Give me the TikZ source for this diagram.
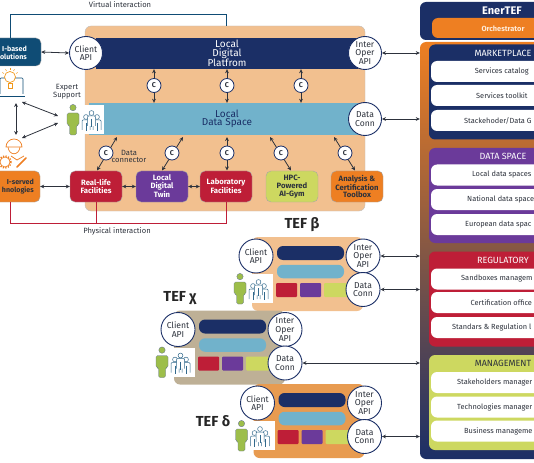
\documentclass[tikz,border=0pt]{standalone}
\usepackage{fontspec}
\setmainfont{Fira Sans}
\usepackage{tikz}
\usetikzlibrary{arrows.meta,calc}
\usepackage{xcolor}
\definecolor{navyband}{RGB}{27,47,102}
\definecolor{skyband}{RGB}{113,178,203}
\definecolor{sandpanel}{RGB}{242,192,143}
\definecolor{taupepanel}{RGB}{190,176,150}
\definecolor{amberpanel}{RGB}{232,155,80}
\definecolor{firebox}{RGB}{190,30,55}
\definecolor{plumbox}{RGB}{107,58,154}
\definecolor{limebox}{RGB}{205,216,96}
\definecolor{orangebox}{RGB}{238,127,34}
\definecolor{tealbox}{RGB}{15,76,117}
\definecolor{inkgrey}{RGB}{45,50,60}
\definecolor{figgreen}{RGB}{157,190,74}
\definecolor{crewblue}{RGB}{50,105,140}
\tikzset{
  panelbox/.style={rounded corners=6, inner sep=0},
  bandbox/.style={inner sep=0, align=center, font=\fontsize{10}{8.6}\selectfont},
  unitbox/.style={rounded corners=5, draw=black!35, inner sep=0, align=center,
    minimum width=52, minimum height=31, text=white,
    font=\fontsize{7.7}{7.9}\selectfont\bfseries},
  cuttext/.style={inner sep=0, align=right, anchor=east, font=\fontsize{7.1}{7.9}\selectfont\bfseries},
  apicircle/.style={circle, draw=navyband, line width=0.9pt, fill=white, inner sep=0,
    minimum size=33, align=center, text=inkgrey, font=\fontsize{8.6}{8.6}\selectfont},
  ccircle/.style={circle, draw=navyband, line width=0.8pt, fill=white, inner sep=0,
    minimum size=14, text=inkgrey, font=\fontsize{7}{7}\selectfont\bfseries},
  rowbox/.style={rounded corners=6, fill=white, inner sep=0, minimum width=140, minimum height=21},
  rowtext/.style={anchor=west, inner sep=0, text=inkgrey, font=\fontsize{7.4}{8}\selectfont},
  headtext/.style={inner sep=0, font=\fontsize{9}{9}\selectfont},
  notetext/.style={inner sep=0, align=center, text=inkgrey, font=\fontsize{7.6}{7.8}\selectfont},
  teftext/.style={inner sep=0, text=black!85, font=\fontsize{14.5}{15}\selectfont\bfseries},
  link/.style={<->, inkgrey, line width=0.8pt},
}
% person with the crew beside it, origin at the top of the head
\newcommand{\crewicon}[1]{
  \fill[white] (3.5,1) rectangle (#1,30);
  \fill[figgreen, draw=navyband!70, line width=0.3pt, rounded corners=1.5]
    (-6,21) -- (-6,9) -- (6,9) -- (6,21) -- (3.5,21) -- (3.5,31) -- (-3.5,31) -- (-3.5,21) -- cycle;
  \fill[figgreen, draw=navyband!70, line width=0.3pt] (0,3.6) circle (3.2);
  \foreach \cx/\cy in {13/11,24/11,18.5/7}{
    \draw[crewblue, line width=0.5pt, fill=white, rounded corners=1]
      (\cx-4,\cy+15) -- (\cx-4,\cy+5) -- (\cx+4,\cy+5) -- (\cx+4,\cy+15);
    \draw[crewblue, line width=0.5pt, fill=white] (\cx,\cy+2) circle (2.4);
    \draw[crewblue, line width=0.3pt] (\cx,\cy+8) -- (\cx,\cy+16);
  }
}
\begin{document}
\begin{tikzpicture}[x=1pt, y=-1pt, >={Stealth[length=4pt,width=3.8pt]}]
  \useasboundingbox (0,0) rectangle (534,462);
  \clip (0,0) rectangle (534,462);

  % Right column
  \node[panelbox, fill=navyband, minimum width=180, minimum height=38] (enerhead) at (510,21) {};
  \node[panelbox, fill=orangebox, minimum width=150, minimum height=20] (orchestrator) at (507,28) {};
  \node[headtext, white, font=\fontsize{11}{11}\selectfont\bfseries] (enertitle) at (502,11) {EnerTEF};
  \node[headtext, white!85!orange, font=\fontsize{7.4}{8}\selectfont\bfseries] (orchtitle) at (503,28.5) {Orchestrator};
  \node[panelbox, top color=orangebox, bottom color=navyband, minimum width=180, minimum height=417] (enerpanel) at (510,250.5) {};

  % Market place, data space, regulatory, management
  \foreach \gname/\gy/\gcol/\gtxt/\gtitle in {
    market/92/navyband/white/MARKETPLACE, space/195.5/plumbox/white/DATA SPACE,
    regul/299/firebox/white/REGULATORY, manage/402.5/limebox/inkgrey/MANAGEMENT}{
    \node[panelbox, fill=\gcol, minimum width=140, minimum height=95] (\gname) at (499,\gy) {};
    \node[headtext, \gtxt] (\gname-title) at (503,\gy-39) {\gtitle};
  }
  \foreach \rname/\ry/\rx/\rtext in {
    cat/71.5/474.7/Services catalog, kit/95.5/476/Services toolkit, stake/120.5/464/{Stackehoder/Data G},
    local/175/472/Local data spaces, nation/199.5/467/National data space, euro/224.5/465/European data spac,
    sand/279/461/Sandboxes managem, cert/302.5/470.5/Certification office, stan/327.5/452/Standars \& Regulation l,
    holder/382.5/457/Stakeholders manager, tech/407/457/Technologies manager, busi/431/464/Business manageme}{
    \node[rowbox] (\rname) at (501,\ry) {};
    \node[rowtext] (\rname-text) at (\rx,\ry) {\rtext};
  }

  % Main TEF
  \node[panelbox, fill=sandpanel, draw=black!25, line width=0.4pt, minimum width=280, minimum height=185] (mainpanel) at (225,118.5) {};
  \node[bandbox, fill=navyband, text=white, minimum width=262, minimum height=31] (platform) at (227,53.5) {Local\\Digital\\Platfrom};
  \node[bandbox, fill=skyband, text=navyband, minimum width=276, minimum height=32] (dataspace) at (227,119) {Local\\Data Space};
  \begin{scope}[shift={(73,104)}]
    \crewicon{31}
  \end{scope}

  % Units along the bottom
  \node[unitbox, fill=firebox] (realfac) at (96,186.5) {Real-life\\Facilities};
  \node[unitbox, fill=plumbox] (twin) at (162,186.5) {Local\\Digital\\Twin};
  \node[unitbox, fill=firebox] (labfac) at (226,186.5) {Laboratory\\Facilities};
  \node[unitbox, fill=limebox, text=inkgrey] (gym) at (292,186.5) {HPC-\\Powered\\AI-Gym};
  \node[unitbox, fill=orangebox, text=inkgrey] (toolbox) at (357,186.5) {Analysis \&\\Certification\\Toolbox};
  \node[unitbox, fill=orangebox, minimum width=60] (served) at (10,186.5) {};
  \node[cuttext, text=inkgrey] (servedtext) at (34,186.5) {I-served\hspace{6pt}\\hnologies};
  \node[unitbox, fill=tealbox, minimum width=62, minimum height=28] (aibased) at (10,52) {};
  \node[cuttext, text=white] (aitext) at (27,52.5) {I-based\\olutions};

  % Vertical connectors between the bands
  \foreach \cname/\cx in {ca/154,cb/227,cc/301}{
    \coordinate (\cname-pos) at (\cx,85.5);
    \draw[link] (\cname-pos |- platform.south) -- (\cname-pos |- dataspace.north);
    \node[ccircle] (\cname) at (\cname-pos) {C};
  }

  % Connectors down to the units
  \foreach \cname/\cx/\ax/\bx in {cd/106/117/97, ce/172/183/162, cf/227/227/227, cg/281/270/291, ch/345/334/355}{
    \coordinate (\cname-top) at (\ax,137);
    \coordinate (\cname-low) at (\bx,170.5);
    \draw[link] (\cname-top) -- (\cname-low);
    \node[ccircle] (\cname) at (\cx,153) {C};
  }

  % Arrows between the units
  \draw[link] (served) -- (realfac);
  \draw[link] (realfac) -- (twin);
  \draw[link] (twin) -- (labfac);

  % Circles of the main TEF
  \node[apicircle] (client) at (86,53) {Client\\API};
  \node[apicircle] (inter) at (365,53) {Inter\\Oper\\API};
  \node[apicircle] (dataconn) at (365,119) {Data\\Conn};
  \draw[link] (aibased.east) -- (client.west);
  \draw[link] (inter.east) -- (enerpanel.west |- inter.east);
  \draw[link] (dataconn.east) -- (enerpanel.west |- dataconn.east);

  % Smaller TEFs
  \foreach \tefname/\dx/\dy/\tefcol in {beta/0/0/sandpanel, chi/-78/73.5/taupepanel, delta/1.5/147/amberpanel}{
    \begin{scope}[shift={(\dx,\dy)}]
      \node[panelbox, fill=\tefcol, minimum width=111, minimum height=74] (\tefname-panel) at (307.5,274) {};
      \node[rounded corners=6, fill=navyband, minimum width=67, minimum height=14, inner sep=0] (\tefname-plat) at (310.5,253) {};
      \node[rounded corners=6, fill=skyband, minimum width=67, minimum height=13.5, inner sep=0] (\tefname-space) at (310.5,271.5) {};
      \node[fill=firebox, rounded corners=1, minimum width=21, minimum height=14, inner sep=0] (\tefname-red) at (286.5,290) {};
      \node[fill=plumbox, rounded corners=1, minimum width=21, minimum height=14, inner sep=0] (\tefname-plum) at (310.5,290) {};
      \node[fill=limebox, rounded corners=1, minimum width=23, minimum height=14, inner sep=0] (\tefname-lime) at (335.5,290) {};
      \begin{scope}[shift={(240,273)}]
        \crewicon{33}
      \end{scope}
      \node[apicircle, minimum size=34] (\tefname-client) at (256,256) {Client\\API};
      \node[apicircle, minimum size=34] (\tefname-inter) at (363,256) {Inter\\Oper\\API};
      \node[apicircle, minimum size=34] (\tefname-conn) at (363,289.5) {Data\\Conn};
    \end{scope}
  }
  \draw[link] (beta-inter.east) -- (enerpanel.west |- beta-inter.east);
  \draw[link] (beta-conn.east) -- (enerpanel.west |- beta-conn.east);
  \draw[link] (chi-conn.east) -- (enerpanel.west |- chi-conn.east);
  \draw[link] (delta-conn.east) -- (enerpanel.west |- delta-conn.east);

  % Virtual and physical lines
  \coordinate (virtualtop) at (226.5,14.5);
  \coordinate (physbase) at (226,223);
  \draw[tealbox, line width=0.8pt] (aibased.north) |- (virtualtop) -- (virtualtop |- mainpanel.north);
  \draw[firebox, line width=0.8pt] (served.south) |- (physbase) -- (physbase |- labfac.south);
  \draw[firebox, line width=0.8pt] (realfac.south) -- (realfac.south |- physbase);

  % Icons on the left
  \draw[tealbox, line width=0.6pt, rounded corners=1] (0,94) -- (0,78) -- (23,78) -- (23,94);
  \draw[tealbox, line width=0.9pt] (-2,96) -- (25,96);
  \draw[orangebox!80!yellow, line width=0.7pt, fill=white] (10,77) circle (5.5);
  \draw[orangebox!80!yellow, line width=0.7pt] (8,83) rectangle (12,88);
  \foreach \a in {-150,-120,-90,-60,-30}{
    \draw[orangebox!80!yellow, line width=0.5pt] ($(10,77)+(\a:7)$) -- ($(10,77)+(\a:9)$);
  }
  \coordinate (bulbcorner) at (16,103);
  \coordinate (gearcorner) at (16,135);
  \coordinate (bulbside) at (22,102);
  \coordinate (gearside) at (22,138);
  \coordinate (crewup) at (58,116);
  \coordinate (crewdown) at (58,123);
  \draw[link] (bulbcorner) -- (gearcorner);
  \draw[link] (bulbside) -- (crewup);
  \draw[link] (gearside) -- (crewdown);
  \draw[orangebox, line width=0.7pt, fill=white] (6,147) arc (180:360:8) -- cycle;
  \draw[orangebox, line width=0.7pt] (8,147) .. controls (9,156) and (19,156) .. (20,147);
  \draw[orangebox, line width=0.7pt] (5,162) circle (5);
  \draw[orangebox, line width=1.4pt, dash pattern=on 1.2pt off 1.4pt] (5,162) circle (6);
  \draw[orangebox, line width=1.6pt, line cap=round] (17,167) -- (26,158);
  \draw[orangebox, line width=0.8pt] (11,156) -- (17,160) -- (24,156);

  % Labels
  \node[notetext] (virtuallabel) at (120,5) {Virtual interaction};
  \node[notetext] (physlabel) at (117,231) {Physical interaction};
  \node[notetext] (expertlabel) at (67,92) {Expert\\Support};
  \node[notetext] (connlabel) at (129,156.5) {Data\\connector};
  \node[teftext] (betalabel) at (302,225) {TEF β};
  \node[teftext] (chilabel) at (180,298) {TEF χ};
  \node[teftext] (deltalabel) at (213,421) {TEF δ};
\end{tikzpicture}
\end{document}
